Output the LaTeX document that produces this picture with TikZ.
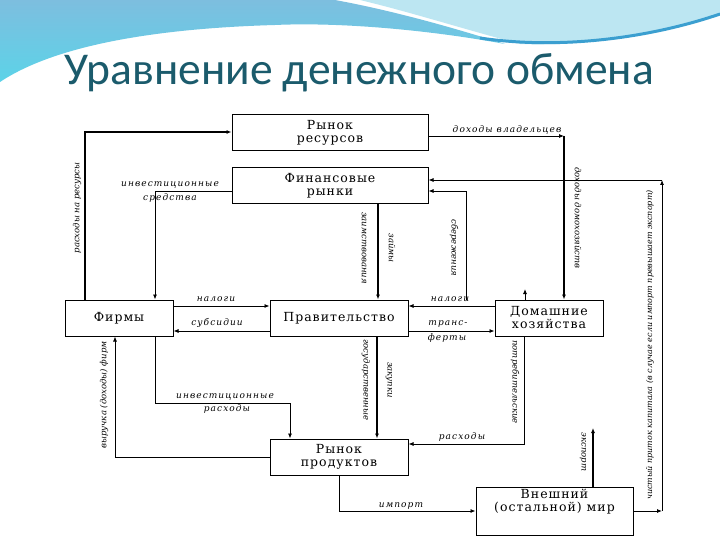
\documentclass[tikz,border=0pt]{standalone}
\usepackage{fontspec}
\setmainfont{DejaVu Serif}
\newfontfamily\titlefont{Carlito}
\newfontfamily\boxfont[LetterSpace=8]{DejaVu Serif}
\newfontfamily\lblfont[LetterSpace=12]{DejaVu Serif}
\newfontfamily\vlblfont{DejaVu Serif}
\usetikzlibrary{arrows.meta}
\definecolor{SlideTeal}{HTML}{1B5B6C}
\definecolor{WaveBlue}{HTML}{7DBEDF}
\definecolor{WaveCyan}{HTML}{5CD3E8}
\definecolor{WavePale}{HTML}{BCE6F2}
\definecolor{WaveDark}{HTML}{3B9FD0}
\tikzset{
  box/.style={draw, line width=1pt, fill=white, minimum width=108pt, minimum height=36pt,
              align=center, inner sep=1pt, font=\boxfont\fontsize{12.5}{13}\selectfont},
  flow/.style={-{Latex[length=5pt,width=4pt]}, line width=0.8pt},
  heavy/.style={flow, line width=1.4pt},
  lbl/.style={font=\lblfont\itshape\fontsize{9}{10}\selectfont, inner sep=0.5pt, align=center},
  vlbl/.style={lbl, font=\vlblfont\itshape\fontsize{8.5}{9}\selectfont, rotate=-90},
  ulbl/.style={vlbl, rotate=180},
}
\begin{document}
\begin{tikzpicture}[x=1pt,y=-1pt]
  \useasboundingbox (0,0) rectangle (720,540);
  % slide background
  \fill[white] (0,0) rectangle (720,540);
  \shade[top color=WaveBlue, bottom color=WaveCyan] (0,0) -- (335,0)
    .. controls (400,12) and (460,30) .. (505,44)
    .. controls (430,30) and (340,22) .. (275,25)
    .. controls (170,28) and (60,42) .. (0,82) -- cycle;
  \fill[WavePale] (360,0) -- (720,0) -- (720,14)
    .. controls (650,38) and (580,46) .. (520,44)
    .. controls (460,28) and (410,12) .. (360,0) -- cycle;
  \draw[WaveDark, line width=3pt] (480,38) .. controls (560,50) and (650,38) .. (720,14);
  \node[font=\titlefont\fontsize{45.5}{50}\selectfont, text=SlideTeal] (title) at (359,73) {Уравнение денежного обмена};

  % markets and sectors
  \node[box, minimum width=196pt] (res) at (330,132.5) {Рынок\\ресурсов};
  \node[box, minimum width=196pt] (fin) at (330,186) {Финансовые\\рынки};
  \node[box] (firms) at (119,318) {Фирмы};
  \node[box, minimum width=138pt] (gov) at (339,318) {Правительство};
  \node[box] (hh) at (549,318) {Домашние\\хозяйства};
  \node[box, minimum width=138pt] (prod) at (339,457) {Рынок\\продуктов};
  \node[box, minimum width=157pt, minimum height=48pt] (world) at (554.5,511) {};
  \node[font=\boxfont\fontsize{12.5}{13}\selectfont, align=center] (worldtext) at (554.5,502) {Внешний\\(остальной) мир};

  % resource market
  \coordinate (resin) at (85,132);
  \draw[heavy] (firms.north -| resin) -- (resin) -- (res.west |- resin);
  \node[ulbl] (costlbl) at (77,208) {расходы на ресурсы};
  \coordinate (incA) at (564,136);
  \draw[flow] (res.east |- incA) -- (incA);
  \draw[heavy] (incA) -- (hh.north -| incA);
  \node[lbl] (ownlbl) at (507,130) {доходы владельцев};
  \node[vlbl] (hhinc) at (578,218) {доходы домохозяйств};

  % financial markets
  \coordinate (invA) at (155,191);
  \draw[flow] (fin.west |- invA) -- (invA) -- (firms.north -| invA);
  \node[lbl] (invfund1) at (170,185) {инвестиционные};
  \node[lbl] (invfund2) at (170,198) {средства};
  \coordinate (loan) at (378,250);
  \draw[heavy] (fin.south -| loan) -- (gov.north -| loan);
  \node[vlbl] (borrow) at (364,248) {заимствования};
  \node[vlbl] (credit) at (392,248) {займы};
  \coordinate (savB) at (466,300);
  \coordinate (savT) at (466,191);
  \draw[flow] (savB) -- (savT) -- (fin.east |- savT);
  \node[vlbl] (savlbl) at (454,248) {сбережения};
  \coordinate (stub) at (525,289);
  \draw[flow] (hh.north -| stub) -- (stub);
  \coordinate (capB) at (662,511);
  \coordinate (capT) at (662,180);
  \draw[flow] (world.east |- capB) -- (capB);
  \draw[flow] (capB) -- (capT);
  \draw[flow] (capT) -- (fin.east |- capT);
  \node[ulbl, font=\vlblfont\itshape\fontsize{8}{9}\selectfont] (caplbl) at (650,345)
    {чистый приток капитала (в случае если импорт превышает экспорт)};

  % government
  \coordinate (tax1) at (220,306);
  \draw[flow] (firms.east |- tax1) -- (gov.west |- tax1);
  \node[lbl] (tax1lbl) at (216,299) {налоги};
  \coordinate (sub1) at (220,331);
  \draw[flow] (gov.west |- sub1) -- (firms.east |- sub1);
  \node[lbl] (sub1lbl) at (217,323) {субсидии};
  \coordinate (tax2) at (450,306);
  \draw[flow] (hh.west |- tax2) -- (gov.east |- tax2);
  \node[lbl] (tax2lbl) at (450,299) {налоги};
  \coordinate (tr) at (450,331);
  \draw[flow] (gov.east |- tr) -- (hh.west |- tr);
  \node[lbl] (tr1lbl) at (448,324) {транс-};
  \node[lbl] (tr2lbl) at (447,338) {ферты};
  \coordinate (pur) at (377,390);
  \draw[heavy] (gov.south -| pur) -- (prod.north -| pur);
  \node[vlbl] (pur1lbl) at (366,380) {государственные};
  \node[vlbl] (pur2lbl) at (389,380) {закупки};

  % product market
  \coordinate (ivA) at (155,403);
  \coordinate (ivB) at (290,403);
  \draw[flow] (firms.south -| ivA) -- (ivA) -- (ivB) -- (prod.north -| ivB);
  \node[lbl] (iv1lbl) at (225,397) {инвестиционные};
  \node[lbl] (iv2lbl) at (227,409) {расходы};
  \coordinate (revA) at (115,457);
  \draw[flow] (prod.west) -- (revA) -- (firms.south -| revA);
  \node[ulbl] (revlbl) at (104,395) {выручка (доходы) фирм};
  \coordinate (conA) at (524,444);
  \draw[flow] (hh.south -| conA) -- (conA) -- (prod.east |- conA);
  \node[vlbl] (con1lbl) at (515,382) {потребительские};
  \node[lbl] (con2lbl) at (462,437) {расходы};

  % rest of the world
  \coordinate (exA) at (593,428);
  \draw[heavy] (world.north -| exA) -- (exA);
  \node[vlbl] (exlbl) at (583,452) {экспорт};
  \coordinate (imA) at (339,511);
  \draw[flow] (prod.south) -- (imA) -- (world.west |- imA);
  \node[lbl] (imlbl) at (401,506) {импорт};
\end{tikzpicture}
\end{document}
